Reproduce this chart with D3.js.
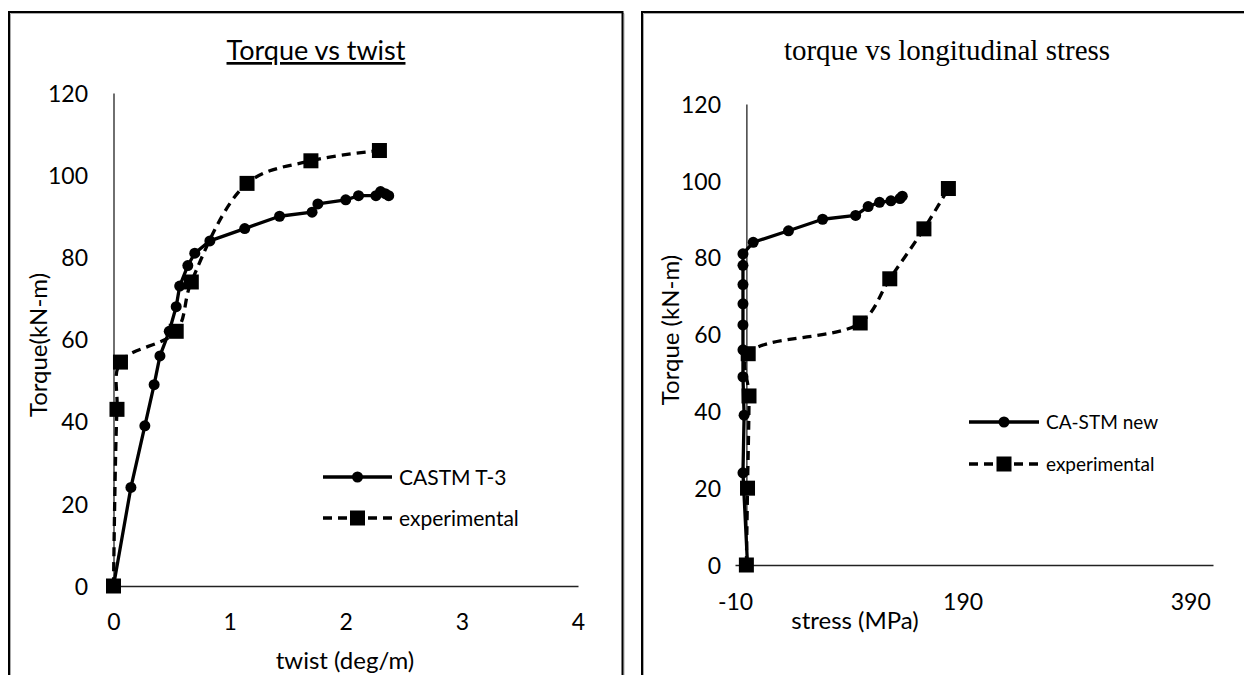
<!DOCTYPE html>
<html>
<head>
<meta charset="utf-8">
<script src="https://cdn.jsdelivr.net/npm/d3@7"></script>
<style>
  html, body { margin: 0; padding: 0; background: #fff; }
  svg { display: block; }
  text { font-family: Lato, "Open Sans", sans-serif; fill: #000; }
</style>
</head>
<body>
<svg id="chart" width="1244" height="675"></svg>
<script>
// ---------- DATA ----------
// Left chart: Torque vs twist
const leftTitle = "Torque vs twist";
const leftXLabel = "twist (deg/m)";
const leftYLabel = "Torque(kN-m)";
const leftXTicks = [0, 1, 2, 3, 4];
const leftYTicks = [0, 20, 40, 60, 80, 100, 120];
const castmName = "CASTM T-3";
const castmTwist  = [0, 0.15, 0.27, 0.35, 0.40, 0.48, 0.54, 0.57, 0.64, 0.70, 0.83, 1.13, 1.43, 1.71, 1.76, 2.00, 2.11, 2.26, 2.30, 2.34, 2.37];
const castmTorque = [0, 24, 39, 49, 56, 62, 68, 73, 78, 81, 84, 87, 90, 91, 93, 94, 95, 95, 96, 95.5, 95];
const expLeftName = "experimental";
const expTwist  = [0, 0.03, 0.06, 0.54, 0.67, 1.15, 1.70, 2.29];
const expTorque = [0, 43, 54.5, 62, 74, 98, 103.5, 106];

// Right chart: torque vs longitudinal stress
const rightTitle = "torque vs longitudinal stress";
const rightXLabel = "stress (MPa)";
const rightYLabel = "Torque (kN-m)";
const rightXTicks = [-10, 190, 390];
const rightYTicks = [0, 20, 40, 60, 80, 100, 120];
const caName = "CA-STM new";
const caStress = [1, -3, -2, -3, -3, -3, -3, -3, -3, -3, 6, 37, 67, 96, 107, 117, 127, 135, 137];
const caTorque = [0, 24, 39, 49, 56, 62.5, 68, 73, 78, 81, 84, 87, 90, 91, 93.3, 94.4, 94.8, 95.4, 96];
const expRightName = "experimental";
const expStress = [0, 1, 2.3, 1.6, 100, 126, 156, 177.5];
const expRTorque = [0, 20, 44, 55, 63, 74.5, 87.5, 98];

// ---------- DRAW ----------
const svg = d3.select("#chart");

function panelBorder(x0, x1) {
  svg.append("path")
    .attr("d", `M${x0 + 1.5},700 V${13.5} H${x1 + 1.5} V700`)
    .attr("fill", "none").attr("stroke", "#aaa").attr("stroke-width", 1);
  svg.append("path")
    .attr("d", `M${x0},700 V${12} H${x1} V700`)
    .attr("fill", "none").attr("stroke", "#000").attr("stroke-width", 2);
}
panelBorder(9, 622.5);
panelBorder(642, 1260);

const lineW = 3.3;
const dash = "9,6";
const tickSize = 23;
const axisTitleSize = 24;
const fmt = d => String(d);

function drawChart(cfg) {
  const g = svg.append("g");
  const x = d3.scaleLinear().domain(cfg.xDomain).range(cfg.xRange);
  const y = d3.scaleLinear().domain(cfg.yDomain).range(cfg.yRange);

  const yAxis = d3.axisLeft(y).tickValues(cfg.yTicks).tickSize(0).tickPadding(0).tickFormat(fmt);
  const yg = g.append("g").attr("transform", `translate(${x(cfg.yAxisAt)},0)`).call(yAxis);
  yg.select(".domain").attr("stroke", "#222").attr("stroke-width", 1.3);
  yg.selectAll(".tick text")
    .attr("x", cfg.yLabelRight - x(cfg.yAxisAt))
    .attr("dy", "0.36em")
    .attr("text-anchor", "end")
    .style("font-family", "Lato, sans-serif")
    .style("font-size", tickSize + "px").attr("fill", "#000");

  const xAxis = d3.axisBottom(x).tickValues(cfg.xTicks).tickSize(0).tickPadding(0).tickFormat(fmt);
  const xg = g.append("g").attr("transform", `translate(0,${y(0)})`).call(xAxis);
  xg.select(".domain").attr("stroke", "#222").attr("stroke-width", 1.3);
  xg.selectAll(".tick text")
    .attr("y", cfg.xLabelOffset)
    .attr("dy", "0.36em")
    .style("font-family", "Lato, sans-serif")
    .style("font-size", tickSize + "px").attr("fill", "#000");

  g.append("text")
    .attr("x", cfg.titleX).attr("y", cfg.titleY)
    .attr("text-anchor", "middle")
    .style("font-family", cfg.titleFont)
    .style("font-size", cfg.titleSize + "px")
    .style("text-decoration", cfg.titleUnderline ? "underline" : "none")
    .text(cfg.title);

  g.append("text")
    .attr("x", cfg.xTitleX).attr("y", cfg.xTitleY)
    .attr("dy", "0.36em")
    .attr("text-anchor", "middle")
    .style("font-size", axisTitleSize + "px")
    .text(cfg.xLabel);
  g.append("text")
    .attr("transform", `translate(${cfg.yTitleX},${cfg.yTitleY}) rotate(-90)`)
    .attr("dy", "0.36em")
    .attr("text-anchor", "middle")
    .style("font-size", axisTitleSize + "px")
    .text(cfg.yLabel);

  cfg.series.forEach(s => {
    const pts = s.xs.map((v, i) => [v, s.ys[i]]);
    const line = d3.line().x(d => x(d[0])).y(d => y(d[1]))
      .curve(s.smooth ? d3.curveCatmullRom.alpha(0.5) : d3.curveLinear);
    g.append("path").datum(pts)
      .attr("d", line)
      .attr("fill", "none").attr("stroke", "#000")
      .attr("stroke-width", lineW)
      .attr("stroke-linejoin", "round")
      .attr("stroke-dasharray", s.dashed ? dash : null);
    if (s.marker === "circle") {
      g.selectAll(null).data(pts).enter().append("circle")
        .attr("cx", d => x(d[0])).attr("cy", d => y(d[1]))
        .attr("r", 5.5).attr("fill", "#000");
    } else {
      const sz = 15;
      g.selectAll(null).data(pts).enter().append("rect")
        .attr("x", d => x(d[0]) - sz / 2).attr("y", d => y(d[1]) - sz / 2)
        .attr("width", sz).attr("height", sz).attr("fill", "#000");
    }
  });

  cfg.series.forEach((s, i) => {
    const ly = cfg.legendY[i];
    const lx0 = cfg.legendX0, lx1 = cfg.legendX1;
    g.append("line")
      .attr("x1", lx0).attr("x2", lx1).attr("y1", ly).attr("y2", ly)
      .attr("stroke", "#000").attr("stroke-width", lineW)
      .attr("stroke-dasharray", s.dashed ? dash : null);
    const mx = (lx0 + lx1) / 2;
    if (s.marker === "circle") {
      g.append("circle").attr("cx", mx).attr("cy", ly).attr("r", 5.5).attr("fill", "#000");
    } else {
      g.append("rect").attr("x", mx - 7.5).attr("y", ly - 7.5).attr("width", 15).attr("height", 15).attr("fill", "#000");
    }
    g.append("text")
      .attr("x", lx1 + 7).attr("y", ly).attr("dy", "0.36em")
      .style("font-size", cfg.legendSize + "px")
      .text(s.name);
  });
}

drawChart({
  xDomain: [0, 4], xRange: [113.5, 578],
  yDomain: [0, 120], yRange: [586, 93],
  yAxisAt: 0, xTicks: leftXTicks, yTicks: leftYTicks,
  yLabelRight: 88, xLabelOffset: 36,
  title: leftTitle, titleX: 316, titleY: 60, titleFont: "Lato, sans-serif", titleSize: 27, titleUnderline: true,
  xLabel: leftXLabel, xTitleX: 345, xTitleY: 660,
  yLabel: leftYLabel, yTitleX: 38, yTitleY: 345,
  legendX0: 323, legendX1: 392, legendY: [477, 518], legendSize: 21,
  series: [
    { name: castmName, xs: castmTwist, ys: castmTorque, marker: "circle", dashed: false, smooth: false },
    { name: expLeftName, xs: expTwist, ys: expTorque, marker: "square", dashed: true, smooth: true }
  ]
});

drawChart({
  xDomain: [-10, 410], xRange: [735, 1213],
  yDomain: [0, 120], yRange: [565, 104],
  yAxisAt: 0, xTicks: rightXTicks, yTicks: rightYTicks,
  yLabelRight: 721, xLabelOffset: 37,
  title: rightTitle, titleX: 947, titleY: 60, titleFont: "'Liberation Serif', 'Times New Roman', serif", titleSize: 29, titleUnderline: false,
  xLabel: rightXLabel, xTitleX: 855, xTitleY: 620,
  yLabel: rightYLabel, yTitleX: 670, yTitleY: 330,
  legendX0: 969, legendX1: 1039, legendY: [422, 464], legendSize: 19,
  series: [
    { name: caName, xs: caStress, ys: caTorque, marker: "circle", dashed: false, smooth: false },
    { name: expRightName, xs: expStress, ys: expRTorque, marker: "square", dashed: true, smooth: true }
  ]
});
</script>
</body>
</html>
